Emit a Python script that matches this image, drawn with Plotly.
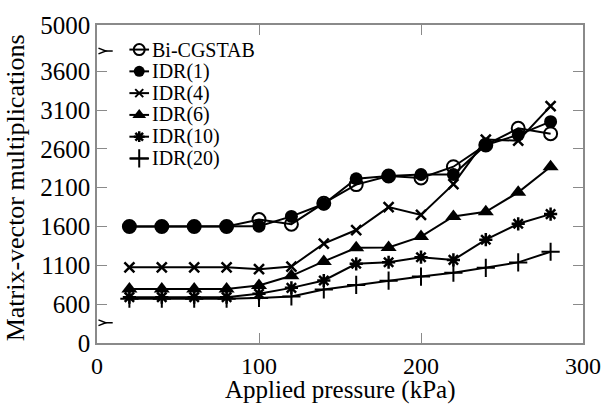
import plotly.graph_objects as go

pressure = [20, 40, 60, 80, 100, 120, 140, 160, 180, 200, 220, 240, 260, 280]

bicgstab = [1600, 1600, 1600, 1600, 1690, 1630, 1900, 2140, 2250, 2225, 2370, 2650, 2865, 2795]
idr1 = [1600, 1600, 1600, 1600, 1605, 1730, 1890, 2215, 2250, 2270, 2270, 2650, 2780, 2950]
idr4 = [1075, 1075, 1075, 1075, 1050, 1085, 1380, 1555, 1850, 1750, 2145, 2720, 2705, 3150]
idr6 = [795, 795, 795, 795, 840, 965, 1150, 1325, 1330, 1470, 1730, 1790, 2040, 2370]
idr10 = [690, 690, 690, 690, 735, 810, 905, 1120, 1140, 1205, 1170, 1430, 1635, 1760]
idr20 = [670, 670, 670, 670, 680, 700, 790, 848, 903, 956, 1006, 1068, 1138, 1275]

series_names = ["Bi-CGSTAB", "IDR(1)", "IDR(4)", "IDR(6)", "IDR(10)", "IDR(20)"]
series_values = [bicgstab, idr1, idr4, idr6, idr10, idr20]

y_tick_values = [0, 600, 1100, 1600, 2100, 2600, 3100, 3600, 5000]
x_tick_values = [0, 100, 200, 300]

# broken (piecewise-linear) y scale: segment boundaries and their display lengths
y_breaks = [0, 600, 3600, 5000]
y_spans = [1.0, 6.0, 1.19]


def ytrans(v):
    pos = 0.0
    for i in range(len(y_spans)):
        lo, hi = y_breaks[i], y_breaks[i + 1]
        if v <= hi or i == len(y_spans) - 1:
            return pos + (v - lo) / (hi - lo) * y_spans[i]
        pos += y_spans[i]
    return pos


styles = [
    dict(symbol="circle-open", size=13, line=dict(width=2, color="black"), color="black"),
    dict(symbol="circle", size=13, color="black"),
    dict(symbol="x-thin", size=10, line=dict(width=2.5, color="black"), color="black"),
    dict(symbol="triangle-up", size=14, color="black"),
    dict(symbol="asterisk", size=11, line=dict(width=2.5, color="black"), color="black"),
    dict(symbol="cross-thin", size=13, line=dict(width=2, color="black"), color="black"),
]
legend_styles = [
    dict(symbol="circle-open", size=11, line=dict(width=2, color="black"), color="black"),
    dict(symbol="circle", size=11, color="black"),
    dict(symbol="x-thin", size=8, line=dict(width=2, color="black"), color="black"),
    dict(symbol="triangle-up", size=12, color="black"),
    dict(symbol="asterisk", size=9, line=dict(width=2.5, color="black"), color="black"),
    dict(symbol="cross-thin", size=13, line=dict(width=2, color="black"), color="black"),
]

font_family = "Liberation Serif"
axis_col = "#8a8a8a"

# plot-area pixel geometry (used for paper-coordinate legend/labels)
PX_L, PX_R, PX_T, PX_B = 97, 592, 13, 343


def px_x(px):
    return (px - PX_L) / (PX_R - PX_L)


def px_y(py):
    return (PX_B - py) / (PX_B - PX_T)


fig = go.Figure()
for name, vals, st in zip(series_names, series_values, styles):
    fig.add_trace(go.Scatter(
        x=pressure, y=[ytrans(v) for v in vals], name=name,
        mode="lines+markers",
        line=dict(color="black", width=2),
        marker=st, showlegend=False,
    ))

# hand-made legend (compact rows)
annotations = []
for i, (name, st) in enumerate(zip(series_names, legend_styles)):
    row_y = px_y(38.5 + 22.6 * i)
    fig.add_trace(go.Scatter(
        x=[px_x(130), px_x(140), px_x(150)], y=[row_y] * 3,
        xaxis="x2", yaxis="y2", mode="lines",
        line=dict(color="black", width=2), showlegend=False, hoverinfo="skip"))
    fig.add_trace(go.Scatter(
        x=[px_x(140)], y=[row_y], xaxis="x2", yaxis="y2", mode="markers",
        marker=st, showlegend=False, hoverinfo="skip"))
    annotations.append(dict(
        x=px_x(151), y=row_y, xref="paper", yref="paper", text=name,
        showarrow=False, xanchor="left", yanchor="middle", valign="middle",
        font=dict(family=font_family, size=20, color="black")))

annotations.append(dict(
    x=0.5, y=px_y(392), xref="paper", yref="paper", text="Applied pressure (kPa)",
    showarrow=False, xanchor="center", yanchor="middle",
    font=dict(family=font_family, size=25, color="black")))
annotations.append(dict(
    x=px_x(14), y=px_y(182), xref="paper", yref="paper",
    text="Matrix-vector multiplications", textangle=-90,
    showarrow=False, xanchor="center", yanchor="middle",
    font=dict(family=font_family, size=26, color="black")))

fig.update_layout(
    width=613, height=410,
    margin=dict(l=PX_L, r=613 - PX_R, t=PX_T, b=410 - PX_B),
    paper_bgcolor="white", plot_bgcolor="white",
    font=dict(family=font_family, size=24, color="black"),
    showlegend=False,
    annotations=annotations,
    xaxis=dict(range=[0, 300], tickvals=x_tick_values, ticks="inside", ticklen=10,
               tickcolor=axis_col, showline=True, linecolor=axis_col, linewidth=1.5,
               mirror="ticks", showgrid=False, zeroline=False,
               tickfont=dict(family=font_family, size=24, color="black")),
    yaxis=dict(range=[0, ytrans(5000)], tickvals=[ytrans(v) for v in y_tick_values],
               ticktext=[str(v) for v in y_tick_values], ticks="inside", ticklen=10,
               tickcolor=axis_col, showline=True, linecolor=axis_col, linewidth=1.5,
               mirror="ticks", showgrid=False, zeroline=False,
               tickfont=dict(family=font_family, size=25, color="black")),
    xaxis2=dict(range=[0, 1], overlaying="x", visible=False, fixedrange=True),
    yaxis2=dict(range=[0, 1], overlaying="y", visible=False, fixedrange=True),
)

# axis-break marks on the y axis (decoration, placed in paper coordinates)
for py in [40, 322]:
    yc = px_y(py)
    dy = 3 / (PX_B - PX_T)
    fig.add_shape(type="path", xref="paper", yref="paper",
                  path=f"M {px_x(98.5)},{yc + dy} L {px_x(106)},{yc} L {px_x(98.5)},{yc - dy}",
                  line=dict(color="black", width=1.5))
    fig.add_shape(type="line", xref="paper", yref="paper",
                  x0=px_x(104), x1=px_x(113), y0=yc, y1=yc,
                  line=dict(color="black", width=1.5))

fig.write_html("out.html")
